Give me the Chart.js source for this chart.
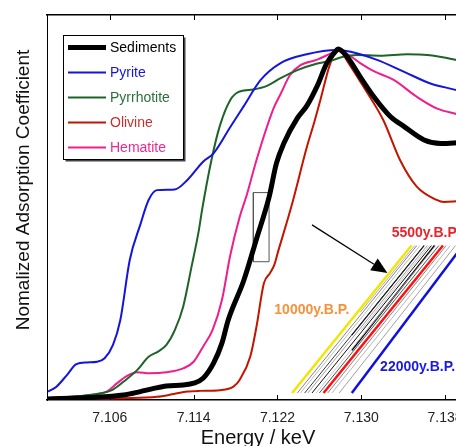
<!DOCTYPE html>
<html>
<head>
<meta charset="utf-8">
<script src="https://cdn.jsdelivr.net/npm/chart.js@4.4.1/dist/chart.umd.min.js"></script>
<style>
  html, body { margin: 0; padding: 0; background: #fff; overflow: hidden; }
  #wrap { width: 456px; height: 446px; overflow: hidden; }
</style>
</head>
<body>
<div id="wrap"><canvas id="myChart" width="466" height="446"></canvas></div>
<script>
// ---- data (energy in keV, normalized absorption) ----
const seriesNames = ['Sediments', 'Pyrite', 'Pyrrhotite', 'Olivine', 'Hematite'];

const sedimentsE = [7.1000, 7.1041, 7.1073, 7.1089, 7.1102, 7.1114, 7.1130, 7.1140, 7.1149, 7.1159, 7.1167, 7.1173, 7.1188, 7.1200, 7.1212, 7.1219, 7.1226, 7.1239, 7.1248, 7.1258, 7.1267, 7.1275, 7.1278, 7.1286, 7.1299, 7.1312, 7.1328, 7.1341, 7.1360, 7.1376, 7.1391, 7.1400];
const sedimentsY = [0.003, 0.007, 0.014, 0.024, 0.033, 0.040, 0.043, 0.048, 0.062, 0.105, 0.162, 0.228, 0.342, 0.459, 0.578, 0.674, 0.731, 0.803, 0.838, 0.895, 0.959, 0.992, 1.000, 0.980, 0.921, 0.864, 0.807, 0.779, 0.741, 0.731, 0.733, 0.735];

const pyriteE = [7.1001, 7.1009, 7.1019, 7.1028, 7.1038, 7.1048, 7.1055, 7.1063, 7.1070, 7.1079, 7.1089, 7.1097, 7.1105, 7.1122, 7.1134, 7.1149, 7.1159, 7.1175, 7.1188, 7.1204, 7.1223, 7.1248, 7.1277, 7.1290, 7.1315, 7.1341, 7.1366, 7.1391, 7.1400];
const pyriteY = [0.024, 0.038, 0.071, 0.102, 0.107, 0.109, 0.119, 0.157, 0.228, 0.399, 0.499, 0.570, 0.598, 0.600, 0.627, 0.679, 0.703, 0.778, 0.838, 0.912, 0.960, 0.985, 0.997, 0.992, 0.969, 0.935, 0.902, 0.883, 0.875];

const pyrrhotiteE = [7.1000, 7.1025, 7.1051, 7.1062, 7.1073, 7.1086, 7.1097, 7.1106, 7.1114, 7.1122, 7.1130, 7.1138, 7.1145, 7.1148, 7.1157, 7.1165, 7.1175, 7.1183, 7.1197, 7.1210, 7.1223, 7.1239, 7.1258, 7.1270, 7.1283, 7.1296, 7.1318, 7.1344, 7.1363, 7.1391, 7.1400];
const pyrrhotiteY = [0.005, 0.009, 0.019, 0.028, 0.052, 0.085, 0.123, 0.138, 0.157, 0.199, 0.266, 0.380, 0.484, 0.541, 0.684, 0.781, 0.855, 0.878, 0.885, 0.895, 0.917, 0.940, 0.959, 0.966, 0.978, 0.983, 0.981, 0.985, 0.983, 0.969, 0.963];

const olivineE = [7.1000, 7.1073, 7.1105, 7.1121, 7.1134, 7.1146, 7.1165, 7.1178, 7.1184, 7.1194, 7.1200, 7.1207, 7.1213, 7.1217, 7.1221, 7.1229, 7.1235, 7.1248, 7.1255, 7.1261, 7.1270, 7.1277, 7.1282, 7.1286, 7.1302, 7.1321, 7.1337, 7.1353, 7.1372, 7.1379, 7.1391, 7.1400];
const olivineY = [0.002, 0.005, 0.009, 0.017, 0.024, 0.026, 0.028, 0.038, 0.058, 0.123, 0.209, 0.332, 0.362, 0.385, 0.427, 0.507, 0.570, 0.720, 0.790, 0.855, 0.955, 0.995, 0.988, 0.969, 0.893, 0.798, 0.684, 0.608, 0.570, 0.564, 0.566, 0.568];

const hematiteE = [7.1000, 7.1041, 7.1057, 7.1067, 7.1076, 7.1086, 7.1098, 7.1114, 7.1130, 7.1140, 7.1149, 7.1158, 7.1167, 7.1175, 7.1184, 7.1191, 7.1200, 7.1216, 7.1223, 7.1232, 7.1242, 7.1258, 7.1270, 7.1278, 7.1286, 7.1299, 7.1312, 7.1331, 7.1353, 7.1372, 7.1391, 7.1400];
const hematiteY = [0.005, 0.014, 0.024, 0.048, 0.068, 0.079, 0.076, 0.079, 0.090, 0.109, 0.152, 0.199, 0.285, 0.413, 0.522, 0.587, 0.684, 0.829, 0.872, 0.926, 0.954, 0.970, 0.986, 0.996, 0.987, 0.960, 0.937, 0.912, 0.864, 0.831, 0.815, 0.809];

const tickValues = [7.106, 7.114, 7.122, 7.130, 7.138];

// inset: edge positions of the dated samples (start / end of each line)
const insetE0 = [7.1234, 7.1239, 7.1242, 7.1246, 7.1249, 7.1253, 7.1257, 7.1260, 7.1264, 7.1268, 7.1272, 7.1279, 7.1291, 7.1291, 7.1291, 7.1299, 7.1300];
const insetV0 = [0.020, 0.020, 0.020, 0.020, 0.020, 0.020, 0.020, 0.020, 0.020, 0.020, 0.020, 0.020, 0.020, 0.142, 0.185, 0.250, 0.200];
const insetE1 = [7.1348, 7.1353, 7.1356, 7.1360, 7.1363, 7.1367, 7.1371, 7.1374, 7.1378, 7.1381, 7.1385, 7.1390, 7.1397, 7.1370, 7.1360, 7.1351, 7.1365];
const insetV1 = [0.440, 0.440, 0.440, 0.440, 0.440, 0.440, 0.440, 0.440, 0.440, 0.440, 0.440, 0.440, 0.440, 0.440, 0.440, 0.440, 0.440];

const insetLabels = ['5500y.B.P.', '10000y.B.P.', '22000y.B.P.'];
const insetLabelE = [7.1329, 7.1217, 7.1318];
const insetLabelV = [0.476, 0.256, 0.094];

const arrowE = [7.1253, 7.1325];
const arrowV = [0.499, 0.362];

const boxE = [7.1197, 7.1212];
const boxV = [0.394, 0.591];

// ---- styles ----
const mainColors = ['#000000', '#1414dc', '#1e6428', '#c31400', '#f01e8c'];
const mainWidths = [5, 2, 2, 2, 2];
const legendTextColors = ['#000000', '#1414dc', '#2a7038', '#c83030', '#f0288c'];
const insetColors = ['#f2e600', '#666', '#aaa', '#222', '#888', '#111', '#bbb', '#444', '#ff1010', '#555', '#999', '#777', '#1010e0', '#000', '#111', '#999', '#bbb'];
const insetWidths = [2.5, 0.8, 0.8, 0.9, 0.8, 1, 0.8, 0.9, 2.5, 0.7, 0.7, 0.7, 2.5, 1.6, 1.1, 0.8, 0.8];
const labelColors = ['#e8242a', '#f7913a', '#1a1ae0'];

Chart.defaults.font.family = "'Liberation Sans', Arial, sans-serif";

const toPoints = (es, vs) => es.map((e, i) => ({ x: e, y: vs[i] }));
const mainE = [sedimentsE, pyriteE, pyrrhotiteE, olivineE, hematiteE];
const mainY = [sedimentsY, pyriteY, pyrrhotiteY, olivineY, hematiteY];

const datasets = seriesNames.map((name, i) => ({
    label: name,
    data: toPoints(mainE[i], mainY[i]),
    borderColor: mainColors[i],
    borderWidth: mainWidths[i],
    cubicInterpolationMode: 'monotone',
    pointRadius: 0,
    fill: false
}));

insetE0.forEach((e, i) => {
    datasets.push({
        label: 'inset' + i,
        data: [{ x: e, y: insetV0[i] }, { x: insetE1[i], y: insetV1[i] }],
        borderColor: insetColors[i],
        borderWidth: insetWidths[i],
        pointRadius: 0,
        tension: 0
    });
});

datasets.push({
    label: 'box',
    data: [
        { x: boxE[0], y: boxV[0] }, { x: boxE[1], y: boxV[0] },
        { x: boxE[1], y: boxV[1] }, { x: boxE[0], y: boxV[1] },
        { x: boxE[0], y: boxV[0] }
    ],
    borderColor: '#555',
    borderWidth: 1,
    pointRadius: 0,
    tension: 0
});

const decor = {
    id: 'decor',
    afterDatasetsDraw(chart) {
        const c = chart.ctx;
        const xs = chart.scales.x, ys = chart.scales.y;
        const area = chart.chartArea;

        // inward tick marks, top and bottom
        c.save();
        c.strokeStyle = '#000';
        c.lineWidth = 1;
        tickValues.forEach(v => {
            const px = Math.round(xs.getPixelForValue(v)) + 0.5;
            c.beginPath();
            c.moveTo(px, area.bottom);
            c.lineTo(px, area.bottom - 5);
            c.moveTo(px, area.top);
            c.lineTo(px, area.top + 5);
            c.stroke();
        });

        // arrow
        const x0 = xs.getPixelForValue(arrowE[0]), y0 = ys.getPixelForValue(arrowV[0]);
        const x1 = xs.getPixelForValue(arrowE[1]), y1 = ys.getPixelForValue(arrowV[1]);
        const ang = Math.atan2(y1 - y0, x1 - x0);
        const hl = 16, hw = 7;
        const bx = x1 - hl * Math.cos(ang), by = y1 - hl * Math.sin(ang);
        c.lineWidth = 1.2;
        c.beginPath();
        c.moveTo(x0, y0);
        c.lineTo(bx, by);
        c.stroke();
        c.fillStyle = '#000';
        c.beginPath();
        c.moveTo(x1, y1);
        c.lineTo(bx + hw * Math.sin(ang), by - hw * Math.cos(ang));
        c.lineTo(bx - hw * Math.sin(ang), by + hw * Math.cos(ang));
        c.closePath();
        c.fill();

        // inset labels
        c.font = "bold 14px 'Liberation Sans', Arial, sans-serif";
        c.textBaseline = 'middle';
        c.textAlign = 'left';
        insetLabels.forEach((t, i) => {
            c.fillStyle = labelColors[i];
            c.fillText(t, xs.getPixelForValue(insetLabelE[i]), ys.getPixelForValue(insetLabelV[i]));
        });

        // legend box
        c.fillStyle = '#444';
        c.fillRect(65.5, 37.5, 120, 124);
        c.fillStyle = '#fff';
        c.fillRect(63.5, 35.5, 120, 124);
        c.strokeStyle = '#000';
        c.lineWidth = 1;
        c.strokeRect(63.5, 35.5, 120, 124);
        c.font = "14px 'Liberation Sans', Arial, sans-serif";
        seriesNames.forEach((name, i) => {
            const y = 47.5 + i * 25;
            c.strokeStyle = mainColors[i];
            c.lineWidth = mainWidths[i];
            c.beginPath();
            c.moveTo(68, y);
            c.lineTo(106, y);
            c.stroke();
            c.fillStyle = legendTextColors[i];
            c.fillText(name, 110, y + 0.5);
        });
        c.restore();
    },
    afterDraw(chart) {
        const c = chart.ctx;
        c.save();
        c.fillStyle = '#111';
        c.font = "19px 'Liberation Sans', Arial, sans-serif";
        c.textAlign = 'center';
        c.textBaseline = 'alphabetic';
        c.translate(28.5, 190);
        c.rotate(-Math.PI / 2);
        c.fillText('Nomalized Adsorption Coefficient', 0, 0);
        c.restore();

        c.save();
        c.fillStyle = '#111';
        c.font = "20px 'Liberation Sans', Arial, sans-serif";
        c.textAlign = 'center';
        c.textBaseline = 'alphabetic';
        c.fillText('Energy / keV', 258, 444);
        c.restore();
    }
};

const setTicks = (scale) => { scale.ticks = tickValues.map(v => ({ value: v })); };
const noPad = (h) => (s) => { s.height = h; s.paddingLeft = 0; s.paddingRight = 0; };

new Chart(document.getElementById('myChart'), {
    type: 'line',
    data: { datasets: datasets },
    options: {
        responsive: false,
        animation: false,
        events: [],
        layout: { padding: 0 },
        plugins: { legend: { display: false }, tooltip: { enabled: false } },
        scales: {
            x: {
                type: 'linear', position: 'bottom', min: 7.100, max: 7.140,
                afterBuildTicks: setTicks,
                afterFit: noPad(46),
                ticks: {
                    font: { size: 14 }, color: '#222', padding: 10,
                    maxRotation: 0, autoSkip: false,
                    callback: (v) => Number(v).toFixed(3)
                },
                grid: { drawOnChartArea: false, drawTicks: false },
                border: { color: '#000', width: 1.5 }
            },
            x2: {
                type: 'linear', position: 'top', min: 7.100, max: 7.140,
                afterBuildTicks: setTicks,
                afterFit: noPad(15),
                ticks: { display: false },
                grid: { drawOnChartArea: false, drawTicks: false },
                border: { color: '#000', width: 1.5 }
            },
            y: {
                min: 0, max: 1.097,
                afterFit: (s) => { s.width = 47; },
                ticks: { display: false },
                grid: { drawOnChartArea: false, drawTicks: false },
                border: { color: '#000', width: 1 }
            }
        }
    },
    plugins: [decor]
});
</script>
</body>
</html>
